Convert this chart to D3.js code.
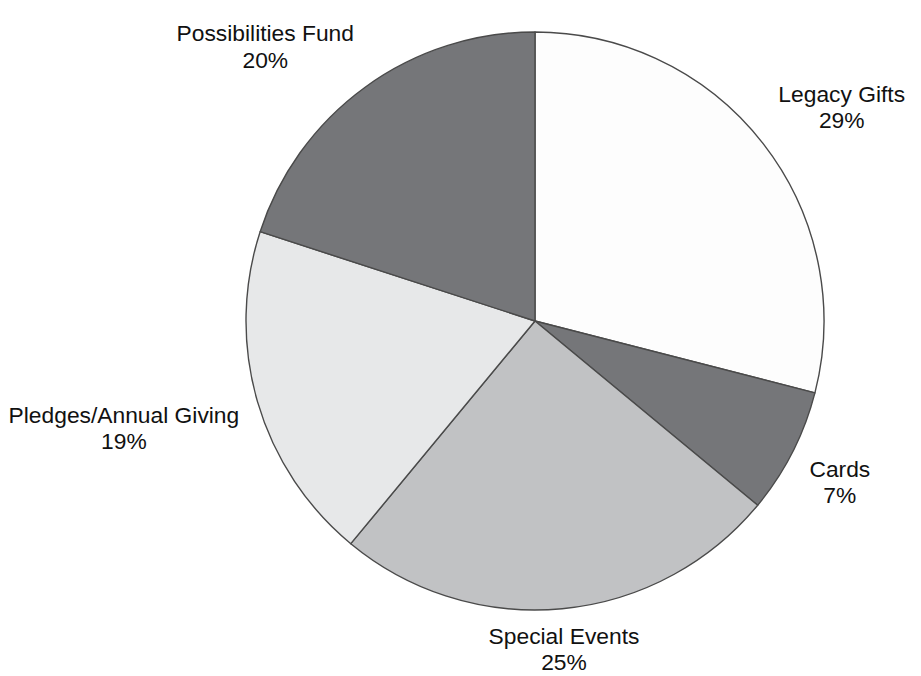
<!DOCTYPE html>
<html>
<head>
<meta charset="utf-8">
<script src="https://cdn.jsdelivr.net/npm/d3@7"></script>
<style>
  body { margin: 0; background: #fff; }
  svg { display: block; }
</style>
</head>
<body>
<script>
'use strict';

const categories = ["Legacy Gifts", "Cards", "Special Events", "Pledges/Annual Giving", "Possibilities Fund"];
const shares = [29, 7, 25, 19, 20];
const fills = ["#fdfdfd", "#757679", "#c1c2c4", "#e7e8e9", "#757679"];

const width = 921, height = 676;
const cx = 535, cy = 321, radius = 289;
const labelGap = 19, fontSize = 22.8, lineGap = 26.5;

let svg = d3.select("body").append("svg")
    .attr("width", width)
    .attr("height", height);

let pie = d3.pie().sort(null).value(d => d.value);
let arc = d3.arc().innerRadius(0).outerRadius(radius);

let data = categories.map((c, i) => ({ name: c, value: shares[i], fill: fills[i] }));
let arcs = pie(data);

let g = svg.append("g").attr("transform", `translate(${cx},${cy})`);

g.selectAll("path")
    .data(arcs)
    .enter().append("path")
    .attr("d", arc)
    .attr("fill", d => d.data.fill)
    .attr("stroke", "#4a4a4a")
    .attr("stroke-width", 1.4)
    .attr("stroke-linejoin", "round");

// labels sit outside the slice, box corner pinned to a point just past the rim
let labels = g.selectAll("text.lbl")
    .data(arcs)
    .enter().append("text")
    .attr("class", "lbl")
    .attr("font-family", "'Liberation Sans', Arial, sans-serif")
    .attr("font-size", fontSize)
    .attr("fill", "#111")
    .attr("text-anchor", "middle");

labels.each(function (d) {
    let t = d3.select(this);
    t.append("tspan").text(d.data.name);
    t.append("tspan").text(d.data.value + "%");
    let w = d3.max(t.selectAll("tspan").nodes(), n => n.getComputedTextLength());
    let h = lineGap + 20;

    let a = (d.startAngle + d.endAngle) / 2;
    let sx = Math.sin(a), sy = -Math.cos(a);
    let px = sx * (radius + labelGap), py = sy * (radius + labelGap);

    let midX = sx > 0.25 ? px + w / 2 : (sx < -0.25 ? px - w / 2 : px);
    let top = sy > 0.25 ? py : (sy < -0.25 ? py - h : py - h / 2);

    t.selectAll("tspan")
        .attr("x", midX)
        .attr("y", (_, i) => top + 16 + i * lineGap);
});
</script>
</body>
</html>
